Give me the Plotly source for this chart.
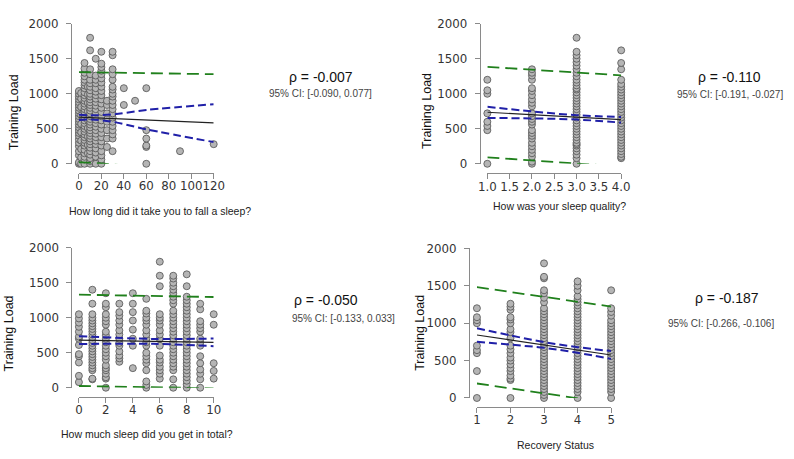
import plotly.graph_objects as go

# ---------------- data ----------------
# Panel 1: How long did it take you to fall a sleep? (minutes)
p1_levels = [0, 2, 5, 8, 10, 15, 20, 25, 30, 40, 50, 60, 90, 120]
p1_values = [
    [0, 20, 120, 180, 250, 300, 350, 400, 440, 480, 520, 560, 600, 640, 680, 720, 760, 800, 840, 880, 920, 960, 1000, 1040],
    [0, 90, 210, 330, 450, 570, 690, 810, 930, 1010],
    [0, 60, 100, 150, 200, 260, 300, 340, 380, 420, 460, 500, 540, 580, 620, 660, 700, 740, 780, 820, 860, 900, 940, 980, 1020, 1080, 1120, 1160, 1200, 1250, 1300, 1360, 1440],
    [150, 270, 390, 510, 630, 750, 870, 990, 1100],
    [0, 40, 80, 130, 180, 230, 280, 320, 360, 400, 440, 480, 520, 560, 600, 640, 680, 720, 760, 800, 840, 880, 920, 960, 1000, 1050, 1100, 1150, 1200, 1280, 1350, 1620, 1800],
    [0, 100, 160, 220, 280, 330, 380, 430, 480, 530, 580, 630, 680, 730, 780, 830, 880, 930, 980, 1030, 1080, 1150, 1200, 1260, 1500],
    [0, 60, 120, 180, 260, 320, 380, 440, 500, 560, 620, 680, 740, 800, 860, 920, 980, 1040, 1100, 1160, 1220, 1280, 1330, 1380, 1430, 1600],
    [240, 360, 480, 600, 720, 840, 900],
    [180, 360, 420, 480, 540, 600, 660, 720, 780, 840, 900, 960, 1000, 1060, 1100, 1200, 1280, 1350, 1550, 1600],
    [840, 1080],
    [900],
    [0, 240, 260, 360, 480, 1080],
    [180],
    [280],
]
p1_fit_x = [0, 120]
p1_fit_y = [665, 585]
p1_ci_x = [0, 10, 30, 60, 120]
p1_ci_upper = [700, 692, 705, 768, 850]
p1_ci_lower = [625, 632, 600, 492, 310]
p1_pi_x = [0, 10, 20, 60, 120]
p1_pi_upper = [1310, 1306, 1302, 1294, 1280]
p1_pi_lower = [22, 18, 4, -50, -130]

# Panel 2: How was your sleep quality?
p2_levels = [1, 2, 3, 4]
p2_values = [
    [0, 480, 540, 600, 720, 1000, 1050, 1200],
    [0, 30, 100, 150, 200, 250, 300, 360, 400, 440, 480, 560, 600, 640, 680, 720, 820, 870, 920, 980, 1040, 1080, 1200, 1260, 1300, 1350],
    [0, 80, 130, 180, 220, 260, 280, 300, 340, 380, 420, 460, 500, 540, 580, 620, 660, 700, 740, 780, 820, 860, 900, 940, 980, 1020, 1060, 1080, 1120, 1160, 1200, 1250, 1300, 1350, 1400, 1450, 1500, 1550, 1600, 1800],
    [80, 100, 140, 180, 220, 260, 300, 340, 380, 420, 460, 500, 540, 580, 620, 660, 700, 740, 780, 820, 860, 900, 940, 980, 1020, 1060, 1100, 1140, 1200, 1350, 1440, 1620],
]
p2_fit_x = [1, 4]
p2_fit_y = [736, 630]
p2_ci_x = [1, 2, 3, 4]
p2_ci_upper = [814, 748, 694, 667]
p2_ci_lower = [655, 648, 632, 588]
p2_pi_x = [1, 2, 3, 4]
p2_pi_upper = [1384, 1344, 1304, 1264]
p2_pi_lower = [92, 50, 8, -40]

# Panel 3: How much sleep did you get in total?
p3_levels = [0, 1, 2, 3, 4, 5, 6, 7, 8, 9, 10]
p3_values = [
    [80, 170, 360, 450, 480, 610, 700, 730, 800, 870, 930, 990, 1050],
    [120, 130, 250, 280, 320, 360, 400, 440, 480, 520, 560, 600, 640, 680, 720, 760, 800, 840, 880, 920, 960, 1000, 1050, 1200, 1400],
    [0, 130, 150, 200, 250, 280, 320, 400, 450, 500, 550, 600, 650, 700, 750, 800, 900, 950, 1000, 1050, 1150, 1200, 1350],
    [370, 420, 460, 520, 600, 640, 700, 760, 820, 900, 960, 1030, 1080, 1200],
    [280, 600, 700, 830, 960, 1080, 1200, 1350],
    [0, 40, 90, 250, 350, 400, 450, 500, 600, 650, 700, 760, 820, 900, 960, 1000, 1060, 1100, 1270],
    [130, 200, 250, 300, 360, 400, 460, 600, 700, 760, 820, 900, 960, 1000, 1050, 1450, 1600, 1800],
    [0, 120, 250, 300, 350, 400, 450, 500, 550, 600, 650, 700, 750, 800, 850, 900, 950, 1000, 1050, 1100, 1200, 1250, 1300, 1350, 1400, 1450, 1500, 1560, 1600],
    [0, 50, 100, 150, 200, 250, 300, 350, 400, 450, 500, 550, 600, 650, 700, 750, 800, 850, 900, 950, 1000, 1050, 1100, 1150, 1200, 1250, 1300, 1450, 1620],
    [0, 120, 200, 260, 350, 450, 600, 650, 700, 800, 850, 900, 950, 1120, 1200],
    [130, 240, 350, 900, 1050],
]
p3_fit_x = [0, 10]
p3_fit_y = [680, 648]
p3_ci_x = [0, 5.5, 10]
p3_ci_upper = [737, 697, 703]
p3_ci_lower = [623, 627, 593]
p3_pi_x = [0, 8, 10]
p3_pi_upper = [1329, 1303, 1296]
p3_pi_lower = [25, 0, -8]

# Panel 4: Recovery Status
p4_levels = [1, 2, 3, 4, 5]
p4_values = [
    [0, 360, 600, 640, 700, 1000, 1040, 1080, 1200],
    [0, 240, 260, 300, 360, 400, 450, 500, 540, 600, 650, 700, 800, 880, 920, 1000, 1050, 1080, 1180, 1220, 1260],
    [0, 40, 80, 120, 160, 200, 240, 280, 320, 360, 400, 440, 480, 520, 560, 600, 640, 680, 720, 760, 800, 840, 880, 920, 960, 1000, 1040, 1080, 1120, 1160, 1200, 1280, 1340, 1400, 1440, 1600, 1620, 1800],
    [0, 80, 120, 160, 200, 240, 280, 320, 360, 400, 440, 480, 520, 560, 600, 640, 680, 720, 760, 800, 840, 880, 920, 960, 1000, 1040, 1080, 1120, 1160, 1200, 1240, 1280, 1320, 1360, 1440, 1500, 1560],
    [0, 80, 120, 160, 200, 240, 280, 320, 360, 400, 440, 480, 520, 560, 600, 640, 680, 720, 760, 800, 840, 880, 920, 960, 1000, 1040, 1100, 1150, 1200, 1440],
]
p4_fit_x = [1, 5]
p4_fit_y = [842, 575]
p4_ci_x = [1, 2, 3, 4, 5]
p4_ci_upper = [932, 837, 747, 680, 627]
p4_ci_lower = [752, 713, 671, 604, 523]
p4_pi_x = [1, 4, 5]
p4_pi_upper = [1482, 1287, 1222]
p4_pi_lower = [194, 0, -70]

x_titles = ["How long did it take you to fall a sleep?", "How was your sleep quality?",
            "How much sleep did you get in total?", "Recovery Status"]
y_title = "Training Load"
rho_texts = ["ρ = -0.007", "ρ = -0.110", "ρ = -0.050", "ρ = -0.187"]
ci_texts = ["95% CI: [-0.090, 0.077]", "95% CI: [-0.191, -0.027]",
            "95% CI: [-0.133, 0.033]", "95% CI: [-0.266, -0.106]"]
x_ticks = [[0, 20, 40, 60, 80, 100, 120], [1.0, 1.5, 2.0, 2.5, 3.0, 3.5, 4.0],
           [0, 2, 4, 6, 8, 10], [1, 2, 3, 4, 5]]
y_ticks = [0, 500, 1000, 1500, 2000]

# ---------------- layout geometry ----------------
W, H = 794, 459
def px(xp):
    return xp / W
def py(yp):
    return 1 - yp / H

panels = [
    dict(levels=p1_levels, values=p1_values, fit=(p1_fit_x, p1_fit_y),
         ci=(p1_ci_x, p1_ci_upper, p1_ci_lower), pi=(p1_pi_x, p1_pi_upper, p1_pi_lower),
         xdom=(71.7, 210.0), ydom=(161.7, 17.3), xline=171.0, yline=63.5, fmt="d",
         ytitle=(14.0, 109.0), yshift=-9, xtitle=(155.0, 210.0),
         rho=(320.0, 72.0, "center"), ci_t=(320.0, 89.0, "center")),
    dict(levels=p2_levels, values=p2_values, fit=(p2_fit_x, p2_fit_y),
         ci=(p2_ci_x, p2_ci_upper, p2_ci_lower), pi=(p2_pi_x, p2_pi_upper, p2_pi_lower),
         xdom=(490.7, 628.0), ydom=(161.7, 17.3), xline=171.7, yline=482.7, fmt=".1f",
         ytitle=(429.0, 107.0), yshift=0, xtitle=(565.0, 205.0),
         rho=(739.0, 72.0, "center"), ci_t=(740.0, 90.0, "center")),
    dict(levels=p3_levels, values=p3_values, fit=(p3_fit_x, p3_fit_y),
         ci=(p3_ci_x, p3_ci_upper, p3_ci_lower), pi=(p3_pi_x, p3_pi_upper, p3_pi_lower),
         xdom=(71.7, 210.0), ydom=(392.7, 248.3), xline=402.0, yline=64.0, fmt="d",
         ytitle=(11.0, 337.0), yshift=-11, xtitle=(142.0, 440.0),
         rho=(290.0, 302.0, "left"), ci_t=(288.0, 321.0, "left")),
    dict(levels=p4_levels, values=p4_values, fit=(p4_fit_x, p4_fit_y),
         ci=(p4_ci_x, p4_ci_upper, p4_ci_lower), pi=(p4_pi_x, p4_pi_upper, p4_pi_lower),
         xdom=(480.0, 617.7), ydom=(403.3, 249.0), xline=412.3, yline=471.7, fmt="d",
         ytitle=(421.7, 336.0), yshift=0, xtitle=(561.0, 452.0),
         rho=(737.0, 300.0, "center"), ci_t=(730.0, 326.0, "center")),
]

AX_COLOR = "#8a8a8a"
TICK_FONT = dict(family="DejaVu Sans", size=11.8, color="#333333")
BLUE = "#2020a8"
GREEN = "#20801c"

fig = go.Figure()
layout = dict(width=W, height=H, margin=dict(l=0, r=0, t=0, b=0),
              paper_bgcolor="white", plot_bgcolor="rgba(0,0,0,0)",
              showlegend=False, annotations=[])

for i, p in enumerate(panels):
    n = "" if i == 0 else str(i + 1)
    xa, ya = "x" + n, "y" + n
    # scatter points
    xs, ys = [], []
    for lv, vals in zip(p["levels"], p["values"]):
        xs += [lv] * len(vals)
        ys += vals
    fig.add_trace(go.Scatter(x=xs, y=ys, mode="markers", xaxis=xa, yaxis=ya,
                             cliponaxis=False,
                             marker=dict(size=7, color="#b5b5b5",
                                         line=dict(color="#505050", width=0.8))))
    # prediction band (green)
    px_, pu, pl = p["pi"]
    for yy in (pu, pl):
        fig.add_trace(go.Scatter(x=px_, y=yy, mode="lines", xaxis=xa, yaxis=ya,
                                 line=dict(color=GREEN, width=1.8, dash="12px,6px")))
    # confidence band (blue)
    cx, cu, cl = p["ci"]
    for yy in (cu, cl):
        fig.add_trace(go.Scatter(x=cx, y=yy, mode="lines", xaxis=xa, yaxis=ya,
                                 line=dict(color=BLUE, width=2, dash="8px,4px", shape="spline")))
    # fit line
    fx, fy = p["fit"]
    fig.add_trace(go.Scatter(x=fx, y=fy, mode="lines", xaxis=xa, yaxis=ya,
                             line=dict(color="#222222", width=1.2)))

    xt = x_ticks[i]
    layout["xaxis" + n] = dict(
        domain=[px(p["xdom"][0]), px(p["xdom"][1])], range=[xt[0], xt[-1]],
        anchor="free", position=py(p["xline"]),
        tickvals=xt, tickformat=p["fmt"], tickangle=0, ticks="outside", ticklen=5,
        tickcolor=AX_COLOR, ticklabelstandoff=-3,
        showline=True, linecolor=AX_COLOR, linewidth=1, showgrid=False, zeroline=False,
        tickfont=TICK_FONT, fixedrange=True)
    layout["yaxis" + n] = dict(
        domain=[py(p["ydom"][0]), py(p["ydom"][1])], range=[0, 2000],
        anchor="free", position=px(p["yline"]),
        tickvals=y_ticks, ticks="outside", ticklen=5, tickcolor=AX_COLOR,
        showline=True, linecolor=AX_COLOR, linewidth=1, showgrid=False, zeroline=False,
        tickfont=TICK_FONT, ticklabelstandoff=5, fixedrange=True)

    ann = layout["annotations"]
    ann.append(dict(text=y_title, x=px(p["ytitle"][0]), y=py(p["ytitle"][1]),
                    xshift=p["yshift"],
                    xref="paper", yref="paper", showarrow=False, textangle=-90,
                    xanchor="center", yanchor="middle",
                    font=dict(family="Liberation Sans", size=12.5, color="#111111")))
    ann.append(dict(text=x_titles[i], x=px(p["xtitle"][0]), y=py(p["xtitle"][1]),
                    xref="paper", yref="paper", showarrow=False,
                    xanchor="center", yanchor="middle",
                    font=dict(family="Liberation Sans", size=10.5, color="#222222")))
    rx, ry, ra = p["rho"]
    ann.append(dict(text=rho_texts[i], x=px(rx), y=py(ry), xref="paper", yref="paper",
                    showarrow=False, xanchor=ra, yanchor="middle",
                    font=dict(family="Liberation Sans", size=14, color="#111111")))
    cx_, cy_, ca = p["ci_t"]
    ann.append(dict(text=ci_texts[i], x=px(cx_), y=py(cy_), xref="paper", yref="paper",
                    showarrow=False, xanchor=ca, yanchor="middle",
                    font=dict(family="Liberation Sans", size=10, color="#444444")))

fig.update_layout(**layout)
fig.write_html("out.html")
